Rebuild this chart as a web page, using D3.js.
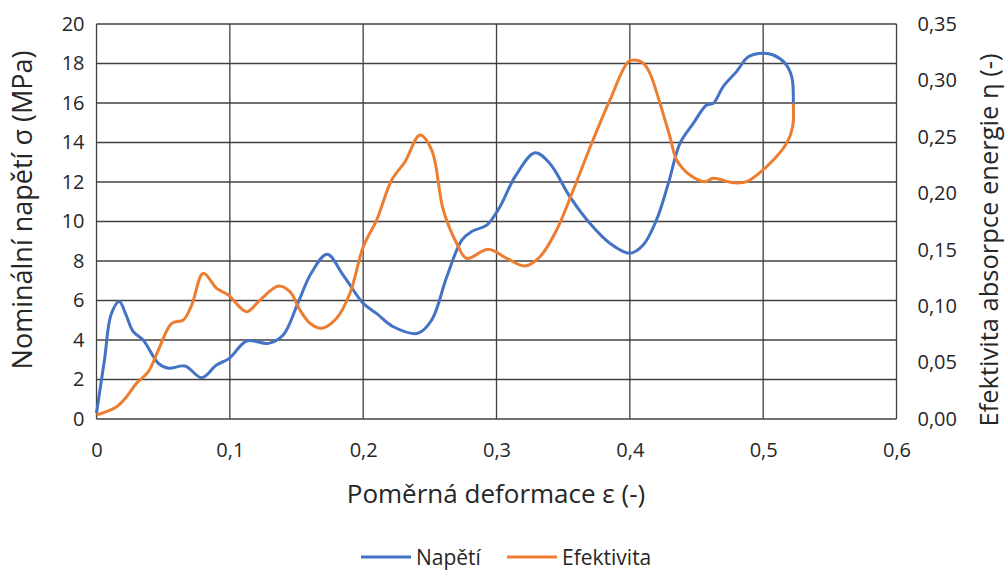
<!DOCTYPE html>
<html><head><meta charset="utf-8">
<script src="https://cdn.jsdelivr.net/npm/d3@7"></script>
<style>
body{margin:0;background:#fff;}
text{font-family:"Open Sans",sans-serif;fill:#262626;}
</style></head>
<body><svg id="c" width="1007" height="574"></svg>
<script>
// Napětí (stress, left axis)
const strainStress = [0,0.006,0.011,0.0171,0.022,0.0276,0.035,0.0464,0.054,0.0664,0.0789,0.090,0.0996,0.1127,0.129,0.140,0.151,0.161,0.173,0.185,0.200,0.210,0.2226,0.241,0.2514,0.2627,0.274,0.2814,0.2927,0.3026,0.3139,0.3289,0.340,0.355,0.370,0.385,0.400,0.410,0.420,0.4289,0.4376,0.4476,0.4576,0.4626,0.470,0.480,0.4889,0.500,0.5076,0.5164,0.5214,0.5226];
const stress = [0.3,3.0,5.3,5.95,5.3,4.42,4.0,2.82,2.57,2.68,2.09,2.73,3.07,3.95,3.83,4.25,5.86,7.38,8.34,7.29,5.86,5.35,4.67,4.34,5.01,7.2,9.06,9.49,9.82,10.75,12.27,13.48,12.94,11.26,9.91,8.9,8.39,8.81,10.08,11.93,13.96,14.97,15.9,15.98,16.83,17.59,18.34,18.52,18.43,18.01,17.33,15.98];
// Efektivita (efficiency, right axis)
const strainEff = [0,0.0151,0.0226,0.030,0.0389,0.0464,0.0564,0.0651,0.0714,0.0801,0.0901,0.0989,0.1126,0.1226,0.1364,0.1451,0.1526,0.1601,0.1689,0.1801,0.1901,0.2001,0.2101,0.2214,0.2314,0.2426,0.2514,0.2601,0.2701,0.2776,0.2939,0.3076,0.3214,0.3326,0.3451,0.3576,0.3714,0.3851,0.3989,0.4039,0.4101,0.4151,0.4226,0.4301,0.4351,0.4451,0.4564,0.4626,0.4776,0.4876,0.5026,0.5176,0.5221,0.5226];
const efficiency = [0.0035,0.0109,0.0198,0.0316,0.0419,0.0611,0.0848,0.0877,0.101,0.1291,0.1158,0.1099,0.0951,0.1054,0.1178,0.1128,0.0966,0.0848,0.0804,0.0892,0.1114,0.1527,0.1763,0.2118,0.228,0.2516,0.2383,0.1852,0.1557,0.1424,0.1504,0.1424,0.1356,0.1438,0.1675,0.2029,0.2443,0.2827,0.3166,0.3181,0.3152,0.3063,0.2797,0.2501,0.2295,0.2162,0.2103,0.2133,0.2094,0.2103,0.2236,0.2443,0.259,0.2797];
const xTicks = [0,0.1,0.2,0.3,0.4,0.5,0.6];
const yLeftTicks = [0,2,4,6,8,10,12,14,16,18,20];
const yRightTicks = [0,0.05,0.10,0.15,0.20,0.25,0.30,0.35];
const seriesNames = ["Napětí","Efektivita"];
const colors = ["#4472C4","#ED7D31"];

const svg = d3.select("#c");
const L=96.5, R=896.5, T=24, B=419;
const x = d3.scaleLinear().domain([0,0.6]).range([L,R]);
const yL = d3.scaleLinear().domain([0,20]).range([B,T]);
const yR = d3.scaleLinear().domain([0,0.35]).range([B,T]);
const comma = f => v => d3.format(f)(v).replace(".",",");

// grid
const g = svg.append("g");
g.selectAll(".hg").data(yLeftTicks).join("line")
  .attr("x1",L).attr("x2",R).attr("y1",d=>yL(d)).attr("y2",d=>yL(d))
  .attr("stroke","#404040").attr("stroke-width",1.3);
g.selectAll(".vg").data(xTicks).join("line")
  .attr("y1",T).attr("y2",B).attr("x1",d=>x(d)).attr("x2",d=>x(d))
  .attr("stroke","#404040").attr("stroke-width",1.3);

// axes (labels only)
const axL = svg.append("g").attr("transform",`translate(${L},0)`)
  .call(d3.axisLeft(yL).tickValues(yLeftTicks).tickSize(0).tickPadding(12).tickFormat(d3.format("d")));
const axR = svg.append("g").attr("transform",`translate(${R},0)`)
  .call(d3.axisRight(yR).tickValues(yRightTicks).tickSize(0).tickPadding(21).tickFormat(comma(".2f")));
const axB = svg.append("g").attr("transform",`translate(0,${B})`)
  .call(d3.axisBottom(x).tickValues(xTicks).tickSize(0).tickPadding(24).tickFormat(d=> d===0?"0":comma(".1f")(d)));
[axL,axR,axB].forEach(a=>{a.select(".domain").remove();a.selectAll("text").attr("font-size",20).attr("font-family","Open Sans").attr("fill","#262626");});

// lines
const lineS = d3.line().x(d=>x(d[0])).y(d=>yL(d[1])).curve(d3.curveCatmullRom.alpha(0.5));
const lineE = d3.line().x(d=>x(d[0])).y(d=>yR(d[1])).curve(d3.curveCatmullRom.alpha(0.5));
svg.append("path").datum(d3.zip(strainStress,stress)).attr("d",lineS)
  .attr("fill","none").attr("stroke",colors[0]).attr("stroke-width",3).attr("stroke-linejoin","round");
svg.append("path").datum(d3.zip(strainEff,efficiency)).attr("d",lineE)
  .attr("fill","none").attr("stroke",colors[1]).attr("stroke-width",3).attr("stroke-linejoin","round");

// titles
svg.append("text").attr("x",496).attr("y",503).attr("text-anchor","middle").attr("font-size",26).text("Poměrná deformace ε (-)");
svg.append("text").attr("transform","translate(32,210) rotate(-90)").attr("text-anchor","middle").attr("font-size",27).text("Nominální napětí σ (MPa)");
svg.append("text").attr("transform","translate(998,240) rotate(-90)").attr("text-anchor","middle").attr("font-size",25.5).text("Efektivita absorpce energie η (-)");

// legend
const leg = svg.append("g");
const lx = [361,507];
seriesNames.forEach((n,i)=>{
  leg.append("line").attr("x1",lx[i]).attr("x2",lx[i]+50).attr("y1",557).attr("y2",557).attr("stroke",colors[i]).attr("stroke-width",3);
  leg.append("text").attr("x",lx[i]+55).attr("y",565).attr("font-size",21).text(n);
});
</script></body></html>
